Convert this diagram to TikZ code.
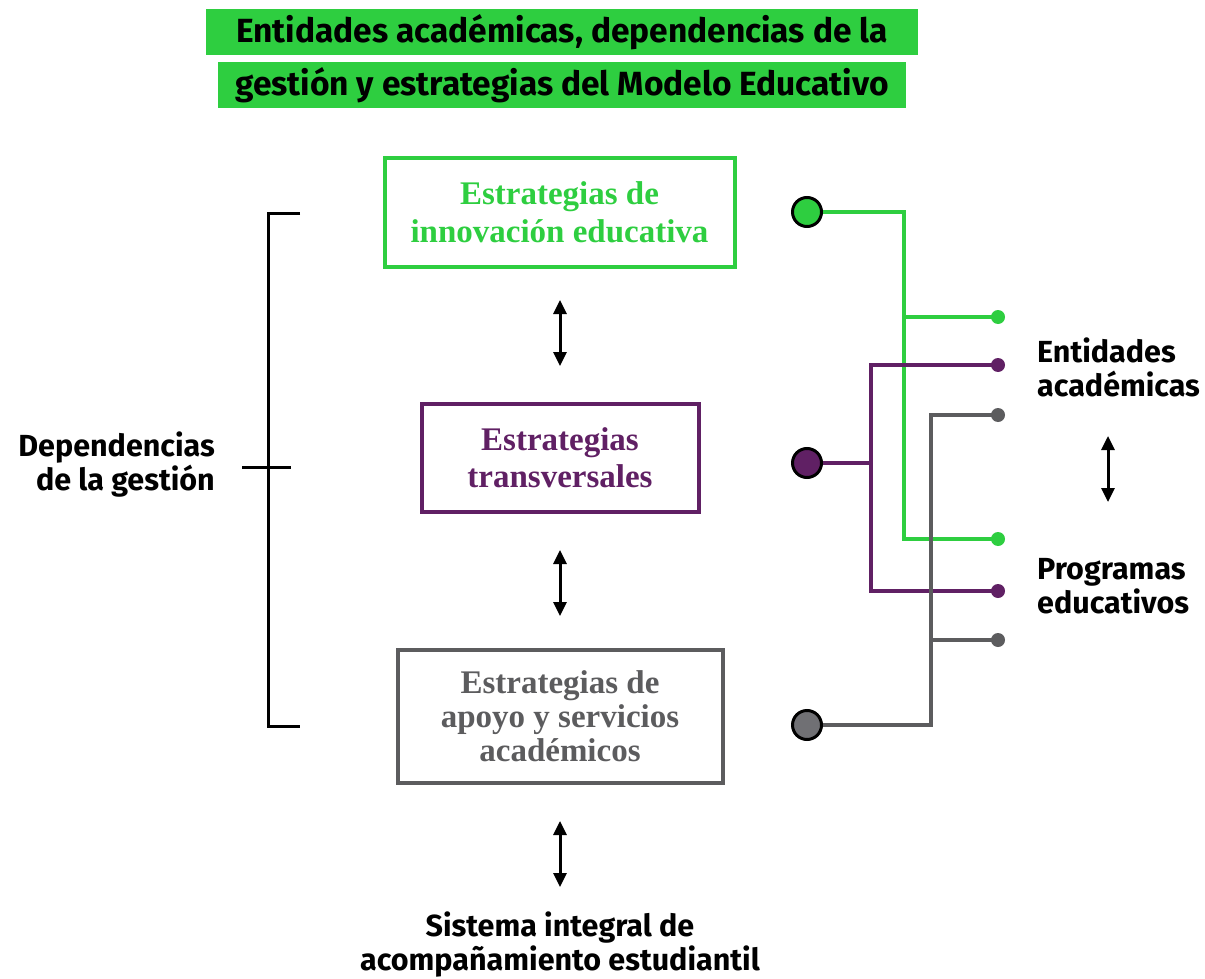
\documentclass[tikz,border=0pt]{standalone}
\usepackage{fontspec}
\setmainfont{Liberation Serif}
\newfontfamily\labfont{Fira Sans}
\usetikzlibrary{arrows.meta}
\definecolor{vgreen}{RGB}{46,206,64}
\definecolor{vpurple}{RGB}{96,32,100}
\definecolor{vgray}{RGB}{92,92,94}
\definecolor{cgray}{RGB}{112,112,116}
\tikzset{
  banner/.style={fill=vgreen, inner sep=0pt, font=\labfont\bfseries\fontsize{33.5}{34}\selectfont, text=black},
  stratbox/.style={draw=#1, line width=4pt, inner sep=0pt, align=center, text=#1, font=\bfseries\fontsize{33}{37.5}\selectfont},
  lab/.style={font=\labfont\bfseries\fontsize{30.5}{34}\selectfont, text=black, inner sep=0pt},
  bigdot/.style={circle, draw=black, line width=3pt, fill=#1, minimum size=29pt, inner sep=0pt},
  smalldot/.style={circle, fill=#1, minimum size=14pt, inner sep=0pt},
  dbl/.style={{Triangle[width=13pt,length=14pt]}-{Triangle[width=13pt,length=14pt]}, line width=3pt, black},
  conn/.style={line width=3.5pt, draw=#1},
  brk/.style={line width=3pt, black}
}
\begin{document}
\begin{tikzpicture}[x=1pt,y=-1pt]
\useasboundingbox (0,0) rectangle (1205,979);
% title banners
\node[banner, minimum width=712pt, minimum height=46pt] (t1) at (562,32) {Entidades académicas, dependencias de la};
\node[banner, minimum width=688pt, minimum height=46pt] (t2) at (562,85) {gestión y estrategias del Modelo Educativo};
% strategy boxes
\node[stratbox=vgreen, minimum width=350pt, minimum height=108pt] (bg) at (559.5,212.5) {Estrategias de\\innovación educativa};
\node[stratbox=vpurple, minimum width=277pt, minimum height=108pt] (bp) at (560,457.5) {Estrategias\\transversales};
\node[stratbox=vgray, minimum width=325pt, minimum height=133pt, font=\bfseries\fontsize{33}{34}\selectfont] (bs) at (560,716) {Estrategias de\\apoyo y servicios\\académicos};
% double arrows between boxes
\coordinate (a1t) at (560,300); \coordinate (a1b) at (560,366);
\coordinate (a2t) at (560,550); \coordinate (a2b) at (560,616);
\coordinate (a3t) at (560,821); \coordinate (a3b) at (560,887);
\draw[dbl] (a1t) -- (a1b);
\draw[dbl] (a2t) -- (a2b);
\draw[dbl] (a3t) -- (a3b);
% bottom label
\node[lab, align=center] (sis) at (560,945) {Sistema integral de\\acompañamiento estudiantil};
% bracket
\coordinate (bt1) at (300,213); \coordinate (bt0) at (268,213);
\coordinate (bb0) at (268,726); \coordinate (bb1) at (300,726);
\coordinate (bm0) at (242,467); \coordinate (bm1) at (291,467);
\draw[brk] (bt1) -- (bt0) -- (bb0) -- (bb1);
\draw[brk] (bm0) -- (bm1);
\node[lab, align=right, anchor=east] (dep) at (215,465) {Dependencias\\de la gestión};
% circles
\node[bigdot=vgreen] (cg) at (807,212) {};
\node[bigdot=vpurple] (cp) at (807,463) {};
\node[bigdot=cgray] (cs) at (807,725) {};
% end dots
\node[smalldot=vgreen] (dg1) at (998,317) {};
\node[smalldot=vpurple] (dp1) at (998,365) {};
\node[smalldot=vgray] (ds1) at (998,415) {};
\node[smalldot=vgreen] (dg2) at (998,539) {};
\node[smalldot=vpurple] (dp2) at (998,591) {};
\node[smalldot=vgray] (ds2) at (998,640) {};
% green connector
\coordinate (gx) at (904,212);
\coordinate (gj) at (904,317);
\draw[conn=vgreen] (cg.east) -- (gx) |- (dg2.center);
\draw[conn=vgreen] (gj) -- (dg1.center);
% purple connector
\coordinate (px) at (871,463);
\coordinate (pt) at (871,365);
\draw[conn=vpurple] (cp.east) -- (px);
\draw[conn=vpurple] (dp1.center) -- (pt) |- (dp2.center);
% gray connector
\coordinate (sx) at (931,725);
\coordinate (sj) at (931,640);
\draw[conn=vgray] (cs.east) -- (sx) |- (ds1.center);
\draw[conn=vgray] (sj) -- (ds2.center);
% right labels
\node[lab, align=left, anchor=west] (ent) at (1037,367) {Entidades\\académicas};
\coordinate (a4t) at (1108,436); \coordinate (a4b) at (1108,502);
\draw[dbl] (a4t) -- (a4b);
\node[lab, align=left, anchor=west] (prog) at (1037,586) {Programas\\educativos};
\end{tikzpicture}
\end{document}
